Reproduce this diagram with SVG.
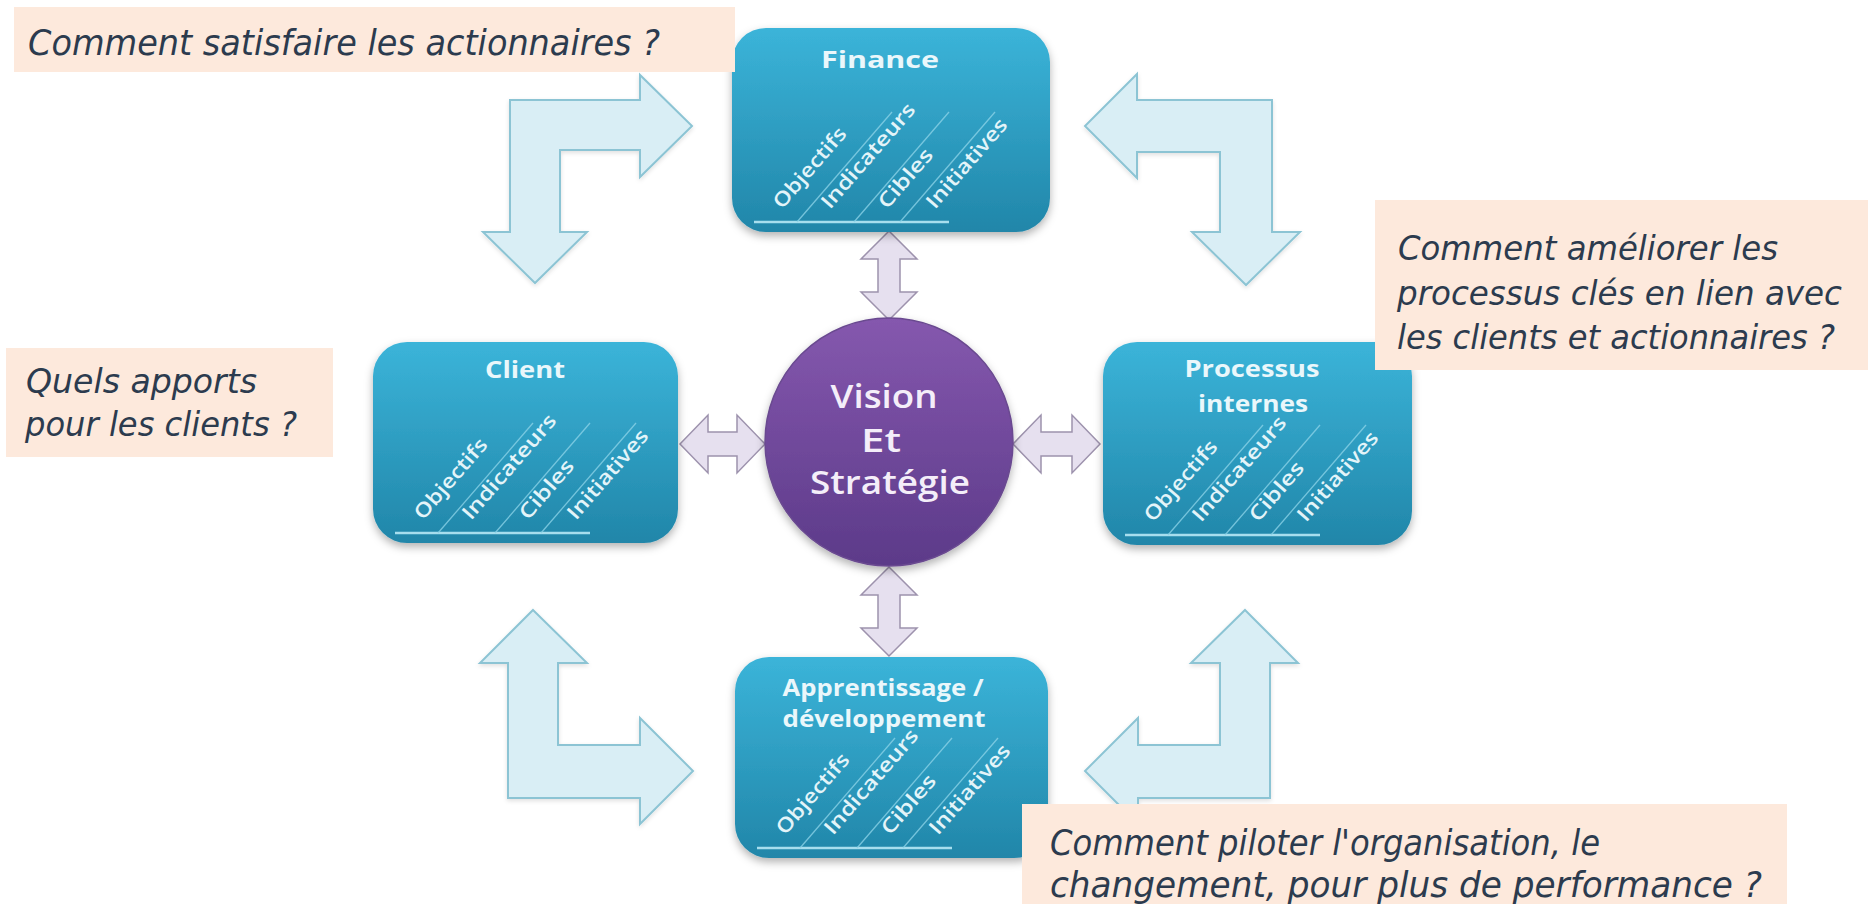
<svg xmlns="http://www.w3.org/2000/svg" width="1868" height="904" viewBox="0 0 1868 904">
<defs>
  <linearGradient id="boxg" x1="0" y1="0" x2="0" y2="1">
    <stop offset="0" stop-color="#3bb4d9"/>
    <stop offset="1" stop-color="#2186a9"/>
  </linearGradient>
  <linearGradient id="circg" x1="0" y1="0" x2="0" y2="1">
    <stop offset="0" stop-color="#8558ae"/>
    <stop offset="1" stop-color="#5c3a89"/>
  </linearGradient>
  <filter id="sh" x="-10%" y="-10%" width="120%" height="130%">
    <feDropShadow dx="0" dy="4" stdDeviation="4" flood-color="#000" flood-opacity="0.3"/>
  </filter>
  <filter id="sh2" x="-10%" y="-10%" width="120%" height="130%">
    <feDropShadow dx="0" dy="2" stdDeviation="2" flood-color="#000" flood-opacity="0.12"/>
  </filter>
</defs>
<style>
  .box{fill:url(#boxg);filter:url(#sh)}
  .title{font-family:"Open Sans","DejaVu Sans",sans-serif;font-weight:700;font-size:24px;fill:#eaf7fb;text-anchor:middle}
  .lbl{font-family:"Open Sans","DejaVu Sans",sans-serif;font-weight:600;font-size:20px;fill:#e3f4f9}
  .div{stroke:#8ad2e7;stroke-width:1.3;opacity:0.8}
  .ul{stroke:#a7deee;stroke-width:2.5}
  .larr{fill:#d9eef5;stroke:#8cc4d4;stroke-width:2;filter:url(#sh2)}
  .darr{fill:#e6e0ef;stroke:#9d92ad;stroke-width:1.5}
  .q{fill:#fde9dc}
  .qt{font-family:"DejaVu Sans","Liberation Sans",sans-serif;font-style:italic;font-size:33px;fill:#2c3b4e}
  .qc{font-size:36px}
  .ct{font-family:"Open Sans","DejaVu Sans",sans-serif;font-weight:600;font-size:32px;fill:#f4eef9;text-anchor:middle}
</style>
<rect width="1868" height="904" fill="#ffffff"/>

<g id="connectors">
  <polygon class="larr" points="510,100 640,100 640,75 692,126 640,177 640,150 560,150 560,232 587,232 535,283 483,232 510,232"/>
  <polygon class="larr" points="1272,100 1137,100 1137,74 1085,126 1137,178 1137,152 1220,152 1220,232 1192,232 1246,285 1300,232 1272,232"/>
  <polygon class="larr" points="533,610 587,663 558,663 558,745 640,745 640,718 693,771 640,824 640,798 508,798 508,663 480,663"/>
  <polygon class="larr" points="1245,610 1298,663 1270,663 1270,798 1138,798 1138,824 1085,771 1138,718 1138,745 1220,745 1220,663 1191,663"/>
  <polygon class="darr" points="889,231 917,259 900,259 900,292 917,292 889,320 861,292 878,292 878,259 861,259"/>
  <polygon class="darr" points="889,567 917,595 900,595 900,628 917,628 889,656 861,628 878,628 878,595 861,595"/>
  <polygon class="darr" points="680,444 708,415 708,432 737,432 737,415 765,444 737,473 737,456 708,456 708,473"/>
  <polygon class="darr" points="1013,444 1041,415 1041,432 1072,432 1072,415 1100,444 1072,473 1072,456 1041,456 1041,473"/>
</g>

<g id="vision">
  <circle cx="889" cy="442" r="124" fill="url(#circg)" stroke="#6a4a90" stroke-width="1.5" filter="url(#sh)"/>
  <text class="ct" x="884" y="408" textLength="107" lengthAdjust="spacingAndGlyphs">Vision</text>
  <text class="ct" x="881" y="452" textLength="40" lengthAdjust="spacingAndGlyphs">Et</text>
  <text class="ct" x="890" y="494" textLength="160" lengthAdjust="spacingAndGlyphs">Stratégie</text>
</g>

<g id="finance">
  <rect class="box" x="732" y="28" width="318" height="204" rx="34"/>
  <text class="title" x="880" y="68" textLength="118" lengthAdjust="spacingAndGlyphs">Finance</text>
  <g transform="translate(732,232)">
    <line class="ul" x1="22" y1="-10" x2="217" y2="-10"/>
    <line class="div" x1="65" y1="-10" x2="160" y2="-120"/>
    <line class="div" x1="122" y1="-10" x2="217" y2="-120"/>
    <line class="div" x1="168" y1="-10" x2="263" y2="-120"/>
    <text class="lbl" transform="translate(50,-22) rotate(-49)" textLength="100" lengthAdjust="spacingAndGlyphs">Objectifs</text>
    <text class="lbl" transform="translate(98,-22) rotate(-49)" textLength="132" lengthAdjust="spacingAndGlyphs">Indicateurs</text>
    <text class="lbl" transform="translate(155,-22) rotate(-49)" textLength="72" lengthAdjust="spacingAndGlyphs">Cibles</text>
    <text class="lbl" transform="translate(203,-22) rotate(-49)" textLength="112" lengthAdjust="spacingAndGlyphs">Initiatives</text>
  </g>
</g>

<g id="client">
  <rect class="box" x="373" y="342" width="305" height="201" rx="34"/>
  <text class="title" x="525" y="378" textLength="80" lengthAdjust="spacingAndGlyphs">Client</text>
  <g transform="translate(373,543)">
    <line class="ul" x1="22" y1="-10" x2="217" y2="-10"/>
    <line class="div" x1="65" y1="-10" x2="160" y2="-120"/>
    <line class="div" x1="122" y1="-10" x2="217" y2="-120"/>
    <line class="div" x1="168" y1="-10" x2="263" y2="-120"/>
    <text class="lbl" transform="translate(50,-22) rotate(-49)" textLength="100" lengthAdjust="spacingAndGlyphs">Objectifs</text>
    <text class="lbl" transform="translate(98,-22) rotate(-49)" textLength="132" lengthAdjust="spacingAndGlyphs">Indicateurs</text>
    <text class="lbl" transform="translate(155,-22) rotate(-49)" textLength="72" lengthAdjust="spacingAndGlyphs">Cibles</text>
    <text class="lbl" transform="translate(203,-22) rotate(-49)" textLength="112" lengthAdjust="spacingAndGlyphs">Initiatives</text>
  </g>
</g>

<g id="processus">
  <rect class="box" x="1103" y="342" width="309" height="203" rx="34"/>
  <text class="title" x="1252" y="377" textLength="135" lengthAdjust="spacingAndGlyphs">Processus</text>
  <text class="title" x="1253" y="412" textLength="110" lengthAdjust="spacingAndGlyphs">internes</text>
  <g transform="translate(1103,545)">
    <line class="ul" x1="22" y1="-10" x2="217" y2="-10"/>
    <line class="div" x1="65" y1="-10" x2="160" y2="-120"/>
    <line class="div" x1="122" y1="-10" x2="217" y2="-120"/>
    <line class="div" x1="168" y1="-10" x2="263" y2="-120"/>
    <text class="lbl" transform="translate(50,-22) rotate(-49)" textLength="100" lengthAdjust="spacingAndGlyphs">Objectifs</text>
    <text class="lbl" transform="translate(98,-22) rotate(-49)" textLength="132" lengthAdjust="spacingAndGlyphs">Indicateurs</text>
    <text class="lbl" transform="translate(155,-22) rotate(-49)" textLength="72" lengthAdjust="spacingAndGlyphs">Cibles</text>
    <text class="lbl" transform="translate(203,-22) rotate(-49)" textLength="112" lengthAdjust="spacingAndGlyphs">Initiatives</text>
  </g>
</g>

<g id="apprentissage">
  <rect class="box" x="735" y="657" width="313" height="201" rx="34"/>
  <text class="title" x="883" y="696" font-size="20" textLength="201" lengthAdjust="spacingAndGlyphs">Apprentissage /</text>
  <text class="title" x="884" y="727" font-size="20" textLength="203" lengthAdjust="spacingAndGlyphs">développement</text>
  <g transform="translate(735,858)">
    <line class="ul" x1="22" y1="-10" x2="217" y2="-10"/>
    <line class="div" x1="65" y1="-10" x2="160" y2="-120"/>
    <line class="div" x1="122" y1="-10" x2="217" y2="-120"/>
    <line class="div" x1="168" y1="-10" x2="263" y2="-120"/>
    <text class="lbl" transform="translate(50,-22) rotate(-49)" textLength="100" lengthAdjust="spacingAndGlyphs">Objectifs</text>
    <text class="lbl" transform="translate(98,-22) rotate(-49)" textLength="132" lengthAdjust="spacingAndGlyphs">Indicateurs</text>
    <text class="lbl" transform="translate(155,-22) rotate(-49)" textLength="72" lengthAdjust="spacingAndGlyphs">Cibles</text>
    <text class="lbl" transform="translate(203,-22) rotate(-49)" textLength="112" lengthAdjust="spacingAndGlyphs">Initiatives</text>
  </g>
</g>

<g id="q-finance">
  <rect class="q" x="14" y="7" width="721" height="65"/>
  <text class="qt qc" x="28" y="55" textLength="632" lengthAdjust="spacingAndGlyphs">Comment satisfaire les actionnaires ?</text>
</g>
<g id="q-client">
  <rect class="q" x="6" y="348" width="327" height="109"/>
  <text class="qt" x="26" y="393" textLength="231" lengthAdjust="spacingAndGlyphs">Quels apports</text>
  <text class="qt" x="25" y="436" textLength="272" lengthAdjust="spacingAndGlyphs">pour les clients ?</text>
</g>
<g id="q-processus">
  <rect class="q" x="1375" y="200" width="493" height="170"/>
  <text class="qt" x="1398" y="260" textLength="380" lengthAdjust="spacingAndGlyphs">Comment améliorer les</text>
  <text class="qt" x="1397" y="305" textLength="445" lengthAdjust="spacingAndGlyphs">processus clés en lien avec</text>
  <text class="qt" x="1397" y="349" textLength="438" lengthAdjust="spacingAndGlyphs">les clients et actionnaires ?</text>
</g>
<g id="q-apprentissage">
  <rect class="q" x="1022" y="804" width="765" height="100"/>
  <text class="qt qc" x="1050" y="855" textLength="550" lengthAdjust="spacingAndGlyphs">Comment piloter l'organisation, le</text>
  <text class="qt qc" x="1050" y="897" textLength="712" lengthAdjust="spacingAndGlyphs">changement, pour plus de performance ?</text>
</g>
</svg>
